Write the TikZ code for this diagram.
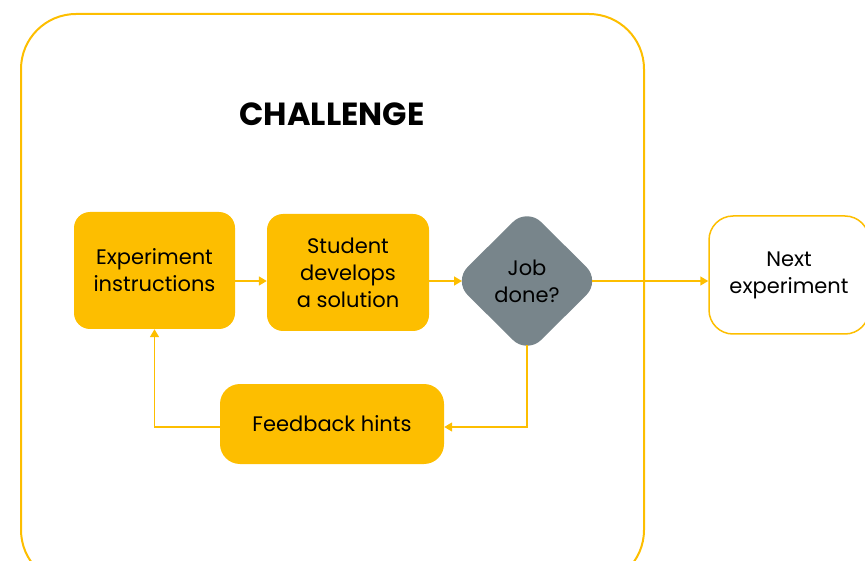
\documentclass[tikz,border=0pt]{standalone}
\usepackage{fontspec}
\setmainfont{Poppins}
\usetikzlibrary{arrows.meta,shapes.geometric}
\definecolor{yel}{HTML}{FDBE00}
\definecolor{gry}{HTML}{78858B}
\tikzset{
  txt/.style={align=center,font=\fontsize{21}{27}\selectfont},
  box/.style={rectangle,rounded corners=16pt,fill=yel,inner sep=0pt,txt},
  link/.style={draw=yel,line width=1.5pt,-{Triangle[length=8pt,width=9pt]}},
}
\begin{document}
\begin{tikzpicture}[x=1pt,y=-1pt]
\useasboundingbox (0,0) rectangle (865,561);
\clip (0,0) rectangle (865,561);
\draw[draw=yel,line width=2pt,rounded corners=55pt] (21,14) rectangle (644,585);
\node[font=\bfseries\fontsize{32}{36}\selectfont] (title) at (332,114) {CHALLENGE};
\node[box,minimum width=161pt,minimum height=117pt] (exp) at (154.5,270.5) {Experiment\\instructions};
\node[box,minimum width=162pt,minimum height=117pt] (stu) at (348,272.5) {Student\\develops\\a solution};
\node[diamond,fill=gry,minimum width=142pt,minimum height=141pt,inner sep=0pt,outer sep=-6pt,rounded corners=20pt,txt] (job) at (527,281) {Job\\done?};
\node[box,fill=white,draw=yel,line width=1.5pt,rounded corners=24pt,minimum width=160pt,minimum height=118pt] (next) at (789,275) {Next\\experiment};
\node[box,rounded corners=20pt,minimum width=224pt,minimum height=80pt] (fb) at (332,424) {Feedback hints};
\draw[link] (exp.east |- 0,281) -- (stu.west |- 0,281);
\draw[link] (stu.east |- 0,281) -- (job.west);
\draw[link] (job.east) -- (next.west |- job.east);
\draw[link] (job.south) |- (fb.east |- 0,427);
\draw[link] (fb.west |- 0,427) -| (exp.south);
\end{tikzpicture}
\end{document}
